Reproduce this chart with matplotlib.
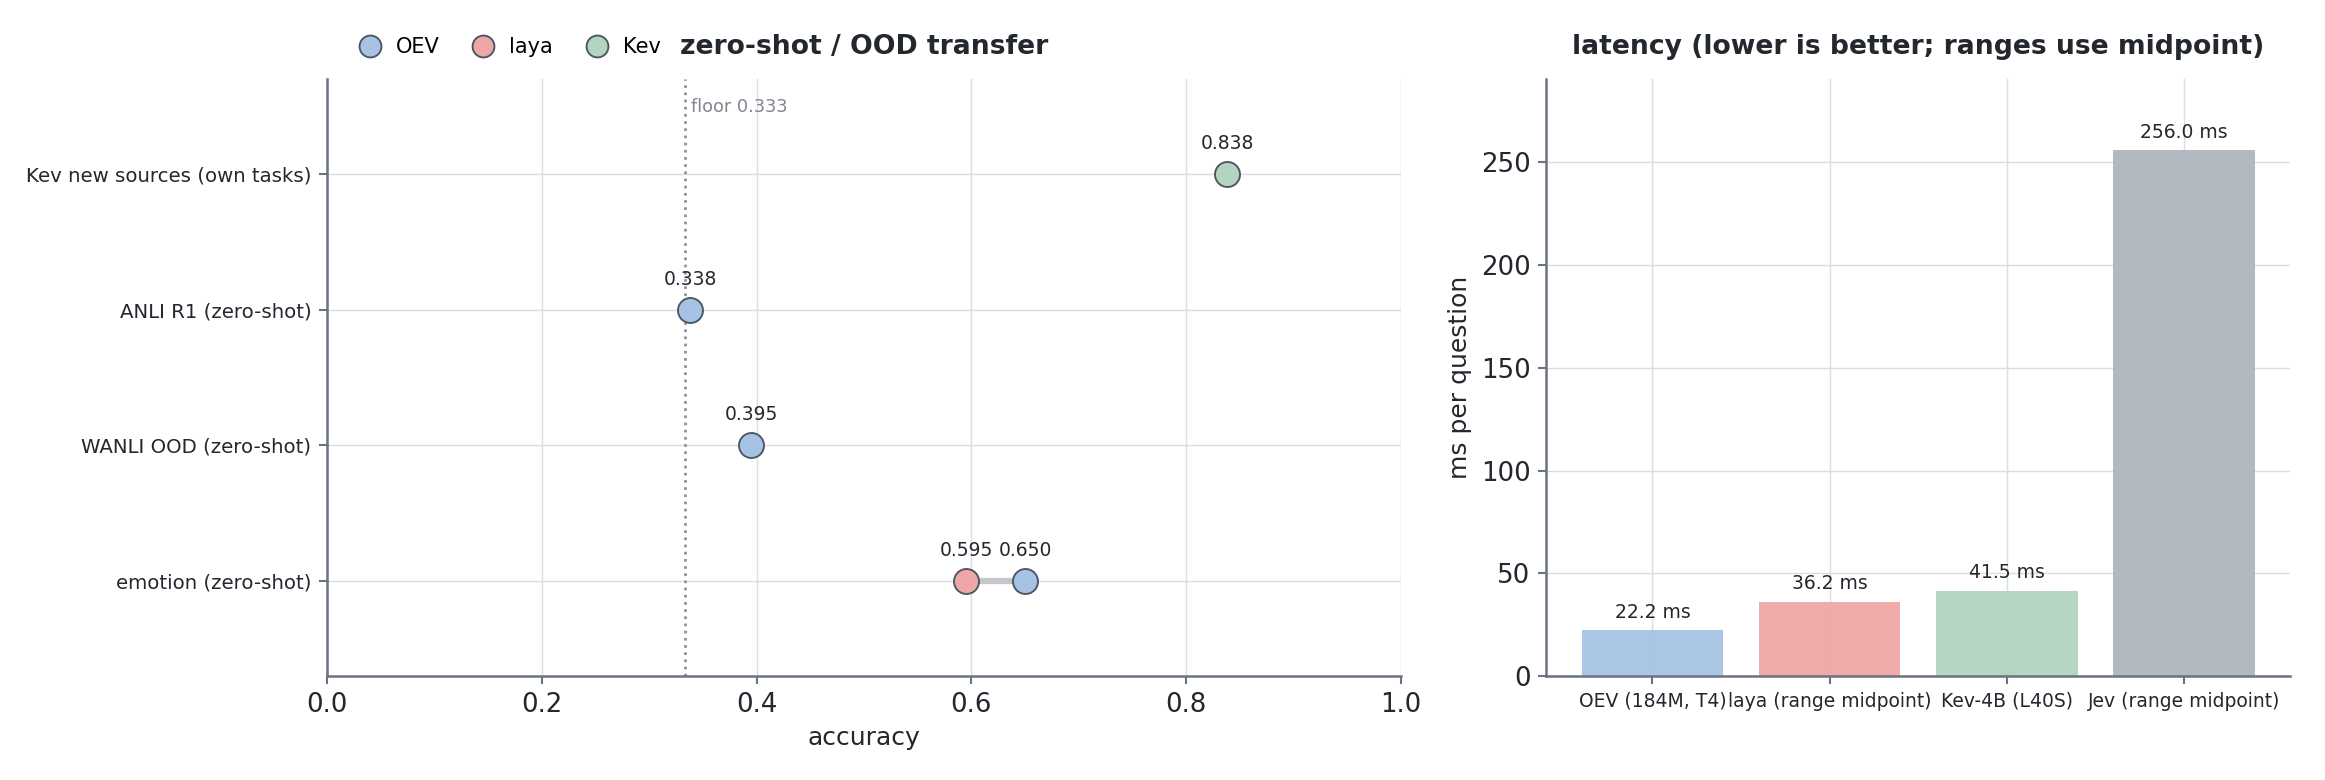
import matplotlib
matplotlib.use("Agg")
import matplotlib.pyplot as plt
from matplotlib.lines import Line2D

plt.rcParams['font.family'] = ['DejaVu Sans']

# ---- data ----
tasks = ["emotion (zero-shot)", "WANLI OOD (zero-shot)", "ANLI R1 (zero-shot)", "Kev new sources (own tasks)"]
oev_acc = [0.650, 0.395, 0.338, None]
laya_acc = [0.595, None, None, None]
kev_acc = [None, None, None, 0.838]
floor_value = 0.333

models = ["OEV (184M, T4)", "laya (range midpoint)", "Kev-4B (L40S)", "Jev (range midpoint)"]
latency_ms = [22.2, 36.2, 41.5, 256.0]

series_names = ["OEV", "laya", "Kev"]
c_oev = "#a6c3e4"
c_laya = "#efa6a6"
c_kev = "#b3d4bf"
c_jev = "#aeb6be"
edge = "#4b5563"
spine_c = "#6b7280"
grid_c = "#dcdde3"
text_c = "#23272e"

fig = plt.figure(figsize=(15.5, 5.2), dpi=150)
ax1 = fig.add_axes([0.1406, 0.1333, 0.462, 0.7655])
ax2 = fig.add_axes([0.665, 0.1333, 0.320, 0.7655])

for ax in (ax1, ax2):
    for s in ("top", "right"):
        ax.spines[s].set_visible(False)
    for s in ("left", "bottom"):
        ax.spines[s].set_color(spine_c)
        ax.spines[s].set_linewidth(1.2)
    ax.grid(True, color=grid_c, linewidth=0.7)
    ax.set_axisbelow(True)
    ax.tick_params(colors=spine_c, labelcolor=text_c, length=4, width=1)

# ---- left: dot plot ----
ypos = list(range(len(tasks)))
for y, a, b in zip(ypos, oev_acc, laya_acc):
    if a is not None and b is not None:
        ax1.plot([b, a], [y, y], color="#c3c7cc", linewidth=3, zorder=2, solid_capstyle="butt")

ms = 12
for vals, col in ((oev_acc, c_oev), (laya_acc, c_laya), (kev_acc, c_kev)):
    for y, v in zip(ypos, vals):
        if v is None:
            continue
        ax1.plot(v, y, marker="o", markersize=ms, markerfacecolor=col,
                 markeredgecolor=edge, markeredgewidth=0.9, linestyle="none", zorder=3)
        ax1.annotate(f"{v:.3f}", (v, y), xytext=(0, 10), textcoords="offset points",
                     ha="center", va="bottom", fontsize=9, color=text_c)

ax1.axvline(floor_value, color="#8b919b", linestyle=":", linewidth=1.3, zorder=1)
ax1.text(floor_value + 0.006, 0.953, f"floor {floor_value}", transform=ax1.get_xaxis_transform(),
         ha="left", va="center", fontsize=8.5, color="#80868f")

ax1.set_xlim(0, 1.0)
ax1.set_ylim(-0.7, len(tasks) - 0.3)
ax1.set_yticks(ypos)
ax1.set_yticklabels(tasks, fontsize=9.5)
ax1.tick_params(axis="x", labelsize=12.5)
ax1.set_xlabel("accuracy", fontsize=12, color=text_c)
ax1.set_title("zero-shot / OOD transfer", fontsize=12.8, fontweight="bold", color=text_c, pad=12)

handles = [Line2D([], [], marker="o", linestyle="none", markersize=10.5, markerfacecolor=c,
                  markeredgecolor=edge, markeredgewidth=0.9) for c in (c_oev, c_laya, c_kev)]
ax1.legend(handles, series_names, loc="lower left", bbox_to_anchor=(0.0, 1.0), ncol=3,
           frameon=False, fontsize=10, handletextpad=0.25, columnspacing=1.1,
           borderaxespad=0.75, borderpad=0.3)

# ---- right: latency bars ----
xpos = list(range(len(models)))
ax2.bar(xpos, latency_ms, width=0.8, color=[c_oev, c_laya, c_kev, c_jev], alpha=0.95, zorder=2)
for x, v in zip(xpos, latency_ms):
    ax2.annotate(f"{v:.1f} ms", (x, v), xytext=(0, 4), textcoords="offset points",
                 ha="center", va="bottom", fontsize=9, color=text_c)
ax2.set_xlim(-0.6, len(models) - 0.4)
ax2.set_ylim(0, max(latency_ms) * 1.135)
ax2.set_xticks(xpos)
ax2.set_xticklabels(models, fontsize=9)
ax2.tick_params(axis="y", labelsize=12.5)
ax2.set_ylabel("ms per question", fontsize=12, color=text_c)
ax2.set_title("latency (lower is better; ranges use midpoint)", fontsize=12.8, fontweight="bold",
              color=text_c, pad=12)

fig.savefig("out.png", dpi=150)
